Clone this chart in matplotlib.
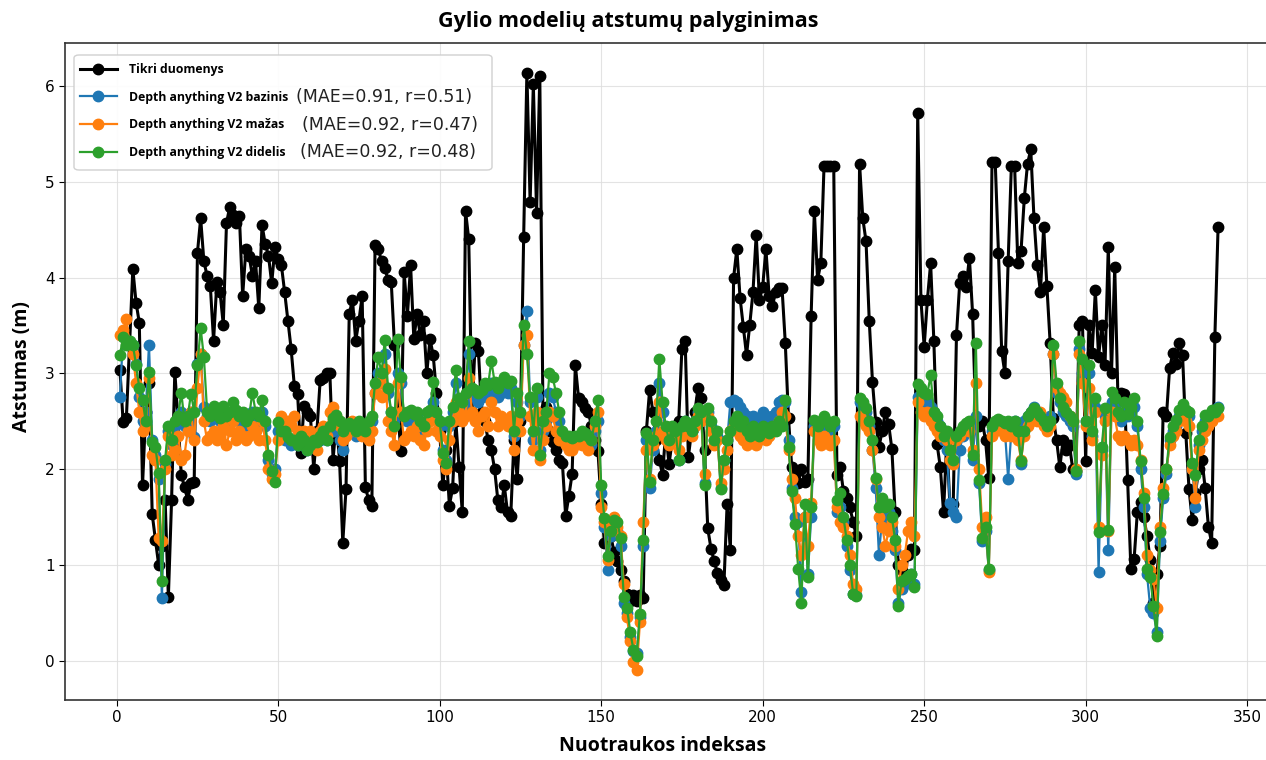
import numpy as np
import matplotlib
matplotlib.use("Agg")
import matplotlib.pyplot as plt
from matplotlib.patches import FancyBboxPatch

title = "Gylio modelių atstumų palyginimas"
x_label = "Nuotraukos indeksas"
y_label = "Atstumas (m)"

names = ["Tikri duomenys", "Depth anything V2 bazinis",
         "Depth anything V2 mažas", "Depth anything V2 didelis"]
metrics = ["(MAE=0.91, r=0.51)", "(MAE=0.92, r=0.47)", "(MAE=0.92, r=0.48)"]

tikri = [
    3.04, 2.49, 2.53, 3.3, 4.09, 3.74, 3.53, 1.83, 2.6, 2.9,
    1.53, 1.26, 1.0, 1.2, 1.68, 0.66, 1.68, 3.02, 2.5, 1.94,
    1.81, 1.68, 1.85, 1.87, 4.26, 4.62, 4.17, 4.02, 3.91, 3.34,
    3.95, 3.85, 3.51, 4.57, 4.74, 4.65, 4.57, 4.64, 3.81, 4.3,
    4.23, 4.02, 4.17, 3.68, 4.55, 4.35, 4.23, 3.94, 4.32, 4.2,
    4.13, 3.85, 3.55, 3.26, 2.87, 2.79, 2.17, 2.66, 2.6, 2.55,
    2.0, 2.4, 2.93, 2.95, 3.0, 3.0, 2.1, 2.5, 2.09, 1.23,
    1.79, 3.62, 3.77, 3.34, 3.55, 3.81, 1.81, 1.68, 1.62, 4.34,
    4.3, 4.17, 4.1, 3.98, 3.96, 3.3, 2.6, 2.19, 4.06, 3.6,
    4.13, 3.36, 3.62, 3.4, 3.55, 3.0, 3.36, 3.19, 2.8, 2.4,
    1.83, 2.2, 1.62, 1.8, 2.5, 2.02, 1.55, 4.70, 4.4, 2.6,
    3.32, 3.23, 2.6, 2.5, 2.3, 2.2, 2.0, 1.68, 1.6, 1.83,
    1.55, 1.51, 2.3, 1.9, 2.5, 4.42, 6.14, 4.79, 6.02, 4.68,
    6.11, 2.5, 2.65, 2.4, 2.28, 2.2, 2.1, 2.06, 1.51, 1.72,
    1.95, 3.09, 2.74, 2.7, 2.64, 2.6, 2.45, 2.3, 2.19, 1.64,
    1.23, 1.35, 1.3, 1.13, 1.04, 0.95, 0.83, 0.7, 0.62, 0.68,
    0.62, 0.68, 0.65, 2.4, 2.83, 2.6, 2.3, 2.1, 1.94, 2.4,
    2.05, 2.3, 2.4, 2.5, 3.26, 3.34, 2.13, 2.4, 2.6, 2.85,
    2.74, 2.2, 1.38, 1.17, 1.04, 0.91, 0.84, 0.79, 1.64, 1.15,
    4.0, 4.3, 3.79, 3.49, 3.19, 3.51, 3.85, 4.45, 3.77, 3.9,
    4.30, 3.81, 3.7, 3.85, 3.89, 3.89, 3.32, 2.53, 2.02, 1.95,
    1.85, 2.0, 1.87, 1.9, 3.6, 4.70, 3.98, 4.15, 5.17, 5.17,
    5.17, 5.17, 1.94, 2.02, 1.77, 1.7, 1.6, 1.45, 1.3, 5.19,
    4.62, 4.38, 3.55, 2.91, 2.49, 2.23, 2.4, 2.6, 2.47, 2.21,
    1.55, 1.0, 0.95, 0.87, 1.1, 1.17, 1.15, 5.72, 3.77, 3.28,
    3.77, 4.15, 3.34, 2.26, 2.02, 1.55, 2.3, 1.6, 1.64, 3.4,
    3.94, 4.02, 3.9, 4.21, 3.62, 2.5, 2.45, 2.5, 2.3, 1.91,
    5.21, 5.21, 4.26, 3.23, 3.0, 4.17, 5.17, 5.17, 4.15, 4.28,
    4.83, 5.19, 5.34, 4.62, 4.13, 3.85, 4.53, 3.91, 3.32, 2.53,
    2.3, 2.02, 2.3, 2.2, 2.25, 2.0, 1.98, 3.51, 3.55, 2.08,
    3.51, 3.21, 3.87, 3.17, 3.51, 3.09, 4.32, 3.0, 4.11, 2.74,
    2.8, 2.79, 1.89, 0.96, 1.06, 1.55, 1.66, 1.5, 1.3, 1.05,
    0.6, 0.9, 1.2, 2.6, 2.55, 3.06, 3.21, 3.1, 3.32, 3.19,
    2.38, 1.79, 1.47, 1.75, 2.0, 2.1, 1.8, 1.4, 1.23, 3.38, 4.53,
]

bazinis = [
    2.75, 3.4, 3.35, 3.3, 3.3, 3.1, 2.75, 2.5, 2.6, 3.3,
    2.3, 2.15, 1.9, 0.65, 2.05, 2.4, 2.25, 2.45, 2.5, 2.6,
    2.45, 2.5, 2.6, 2.34, 3.1, 3.2, 2.65, 2.55, 2.5, 2.6,
    2.55, 2.5, 2.6, 2.5, 2.55, 2.6, 2.55, 2.5, 2.55, 2.45,
    2.5, 2.6, 2.55, 2.5, 2.6, 2.45, 2.1, 1.95, 2.0, 2.4,
    2.35, 2.3, 2.3, 2.25, 2.3, 2.25, 2.3, 2.25, 2.2, 2.25,
    2.25, 2.3, 2.3, 2.35, 2.3, 2.4, 2.4, 2.45, 2.3, 2.2,
    2.4, 2.45, 2.4, 2.35, 2.45, 2.4, 2.35, 2.45, 2.5, 2.8,
    3.0, 2.9, 3.2, 2.8, 2.6, 2.5, 3.0, 2.9, 2.55, 2.5,
    2.55, 2.5, 2.55, 2.45, 2.4, 2.5, 2.55, 2.7, 2.55, 2.45,
    2.2, 2.1, 2.45, 2.6, 2.9, 2.7, 2.65, 2.7, 3.2, 2.8,
    2.75, 2.7, 2.75, 2.8, 2.75, 2.9, 2.8, 2.75, 2.8, 2.85,
    2.8, 2.85, 2.35, 2.7, 2.55, 3.3, 3.65, 2.7, 2.3, 2.75,
    2.2, 2.4, 2.5, 2.8, 2.75, 2.6, 2.5, 2.35, 2.3, 2.3,
    2.3, 2.3, 2.35, 2.35, 2.3, 2.3, 2.25, 2.4, 2.5, 1.75,
    1.4, 0.95, 1.3, 1.4, 1.35, 1.2, 0.6, 0.5, 0.25, 0.1,
    0.08, 0.45, 1.2, 2.3, 1.8, 2.2, 2.4, 2.9, 2.6, 2.4,
    2.3, 2.4, 2.35, 2.1, 2.4, 2.5, 2.4, 2.4, 2.5, 2.6,
    2.55, 1.85, 2.6, 2.45, 2.3, 2.35, 1.8, 2.1, 2.3, 2.7,
    2.72, 2.7, 2.65, 2.6, 2.55, 2.5, 2.55, 2.5, 2.5, 2.6,
    2.55, 2.5, 2.55, 2.6, 2.7, 2.72, 2.7, 2.3, 1.8, 1.5,
    1.45, 0.72, 1.5, 0.9, 1.5, 2.45, 2.4, 2.45, 2.5, 2.45,
    2.4, 2.45, 1.55, 1.6, 1.45, 1.2, 0.95, 0.7, 0.68, 2.7,
    2.65, 2.6, 2.45, 2.2, 1.8, 1.1, 1.5, 1.4, 1.55, 1.35,
    1.15, 0.6, 0.75, 0.8, 0.85, 0.9, 0.8, 2.75, 2.7, 2.65,
    2.7, 2.65, 2.6, 2.5, 2.45, 2.3, 2.2, 1.65, 1.55, 1.5,
    2.2, 2.35, 2.4, 2.45, 2.1, 2.55, 1.85, 1.25, 1.35, 0.95,
    2.4, 2.45, 2.5, 2.45, 2.4, 1.9, 2.4, 2.5, 2.45, 2.05,
    2.5, 2.55, 2.6, 2.65, 2.6, 2.55, 2.5, 2.5, 2.55, 3.2,
    2.8, 2.7, 2.6, 2.55, 2.5, 2.45, 1.95, 3.25, 3.0, 2.5,
    3.0, 2.35, 2.65, 0.93, 2.2, 2.55, 1.15, 2.7, 2.65, 2.55,
    2.5, 2.6, 2.55, 2.6, 2.65, 2.45, 2.0, 1.6, 0.9, 0.55,
    0.5, 0.3, 1.25, 1.7, 1.95, 2.3, 2.4, 2.45, 2.55, 2.6,
    2.55, 2.55, 2.0, 1.6, 2.25, 2.4, 2.5, 2.5, 2.55, 2.6, 2.65,
]

mazas = [
    3.4, 3.45, 3.57, 3.3, 3.2, 2.9, 2.6, 2.4, 2.45, 2.95,
    2.15, 2.1, 1.28, 1.25, 2.0, 2.35, 2.15, 2.2, 2.35, 2.1,
    2.15, 2.4, 2.6, 2.3, 2.85, 3.2, 2.5, 2.3, 2.35, 2.4,
    2.3, 2.35, 2.45, 2.25, 2.4, 2.5, 2.3, 2.4, 2.35, 2.3,
    2.35, 2.45, 2.4, 2.3, 2.5, 2.3, 2.0, 1.9, 1.95, 2.3,
    2.55, 2.4, 2.5, 2.45, 2.55, 2.4, 2.35, 2.4, 2.3, 2.4,
    2.35, 2.2, 2.4, 2.45, 2.35, 2.6, 2.65, 2.55, 2.45, 2.3,
    2.35, 2.45, 2.5, 2.4, 2.45, 2.35, 2.4, 2.3, 2.4, 2.8,
    2.9, 2.75, 3.05, 2.5, 2.4, 2.25, 2.9, 2.6, 2.3, 2.35,
    2.4, 2.35, 2.45, 2.3, 2.25, 2.4, 2.5, 2.6, 2.4, 2.35,
    2.1, 2.0, 2.3, 2.5, 2.7, 2.6, 2.5, 2.55, 2.95, 2.6,
    2.5, 2.4, 2.55, 2.6, 2.45, 2.7, 2.6, 2.45, 2.55, 2.5,
    2.45, 2.55, 2.2, 2.5, 2.4, 3.3, 3.4, 2.55, 2.2, 2.6,
    2.1, 2.3, 2.45, 2.6, 2.55, 2.4, 2.3, 2.3, 2.25, 2.2,
    2.2, 2.25, 2.3, 2.25, 2.3, 2.2, 2.3, 2.45, 2.6, 1.6,
    1.45, 1.05, 1.4, 1.5, 1.4, 1.3, 0.8, 0.45, 0.2, -0.02,
    -0.1, 0.4, 1.45, 2.2, 1.9, 2.25, 2.35, 2.7, 2.4, 2.3,
    2.25, 2.35, 2.3, 2.2, 2.35, 2.45, 2.4, 2.35, 2.45, 2.55,
    2.5, 1.95, 2.55, 2.4, 2.25, 2.3, 1.85, 2.0, 2.2, 2.4,
    2.45, 2.4, 2.35, 2.3, 2.25, 2.3, 2.35, 2.25, 2.3, 2.35,
    2.3, 2.35, 2.4, 2.45, 2.5, 2.6, 2.55, 2.2, 1.9, 1.7,
    1.3, 1.1, 1.5, 1.2, 1.65, 2.4, 2.3, 2.25, 2.35, 2.3,
    2.25, 2.3, 1.6, 1.45, 1.4, 1.3, 1.1, 0.8, 0.75, 2.55,
    2.5, 2.45, 2.4, 2.2, 1.9, 1.5, 1.4, 1.2, 1.35, 1.45,
    1.2, 0.75, 1.0, 1.1, 1.35, 1.45, 1.3, 2.7, 2.6, 2.55,
    2.6, 2.5, 2.45, 2.4, 2.35, 2.4, 2.3, 2.1, 2.05, 2.3,
    2.35, 2.4, 2.45, 2.4, 2.2, 2.9, 2.0, 1.4, 1.5, 0.93,
    2.35, 2.4, 2.45, 2.4, 2.35, 2.4, 2.35, 2.4, 2.3, 2.1,
    2.35, 2.45, 2.5, 2.55, 2.5, 2.6, 2.45, 2.4, 2.45, 3.2,
    2.85, 2.8, 2.75, 2.7, 2.55, 2.5, 2.0, 3.2, 2.9, 2.45,
    2.85, 2.3, 2.6, 1.4, 2.15, 2.5, 1.35, 2.6, 2.55, 2.35,
    2.3, 2.35, 2.3, 2.25, 2.3, 2.25, 2.1, 1.75, 1.1, 0.95,
    0.85, 0.55, 1.4, 1.8, 2.0, 2.25, 2.35, 2.4, 2.5, 2.55,
    2.5, 2.45, 2.0, 1.7, 2.2, 2.3, 2.4, 2.45, 2.5, 2.55, 2.55,
]

didelis = [
    3.19, 3.38, 3.3, 3.34, 3.3, 3.09, 2.85, 2.72, 2.5, 3.02,
    2.28, 2.23, 1.96, 0.83, 2.1, 2.45, 2.3, 2.5, 2.55, 2.8,
    2.5, 2.55, 2.79, 2.6, 3.09, 3.47, 3.17, 2.6, 2.55, 2.66,
    2.6, 2.53, 2.66, 2.55, 2.6, 2.7, 2.62, 2.55, 2.6, 2.5,
    2.55, 2.8, 2.6, 2.55, 2.72, 2.5, 2.15, 1.98, 1.87, 2.49,
    2.4, 2.4, 2.34, 2.3, 2.3, 2.25, 2.35, 2.3, 2.2, 2.25,
    2.3, 2.28, 2.35, 2.4, 2.3, 2.45, 2.53, 2.57, 2.5, 2.4,
    2.45, 2.48, 2.45, 2.4, 2.5, 2.45, 2.4, 2.5, 2.55, 2.9,
    3.17, 3.0, 3.35, 2.85, 2.6, 2.45, 3.36, 2.96, 2.55, 2.6,
    2.62, 2.58, 2.6, 2.5, 2.45, 2.6, 2.62, 2.91, 2.6, 2.5,
    2.17, 2.06, 2.5, 2.65, 3.04, 2.74, 2.7, 2.8, 3.34, 2.85,
    2.83, 2.8, 2.83, 2.9, 2.88, 3.13, 2.91, 2.85, 2.91, 2.96,
    2.9, 2.92, 2.4, 2.8, 2.6, 3.51, 3.2, 2.75, 2.4, 2.85,
    2.15, 2.5, 2.6, 3.0, 2.96, 2.8, 2.6, 2.4, 2.35, 2.35,
    2.33, 2.35, 2.35, 2.4, 2.38, 2.35, 2.3, 2.5, 2.72, 1.83,
    1.49, 1.09, 1.35, 1.47, 1.45, 1.28, 0.66, 0.55, 0.3, 0.11,
    0.05, 0.49, 1.26, 2.38, 1.87, 2.3, 2.5, 3.15, 2.7, 2.45,
    2.3, 2.45, 2.4, 2.1, 2.45, 2.5, 2.45, 2.4, 2.5, 2.64,
    2.6, 1.83, 2.64, 2.5, 2.3, 2.4, 1.79, 2.1, 2.3, 2.4,
    2.5, 2.55, 2.45, 2.5, 2.4, 2.35, 2.45, 2.4, 2.35, 2.45,
    2.4, 2.38, 2.45, 2.4, 2.5, 2.45, 2.72, 2.23, 1.77, 1.43,
    0.96, 0.6, 1.64, 0.87, 1.6, 2.51, 2.45, 2.5, 2.55, 2.5,
    2.45, 2.5, 1.68, 1.75, 1.5, 1.26, 1.0, 0.7, 0.67, 2.74,
    2.7, 2.64, 2.5, 2.3, 1.91, 1.6, 1.7, 1.6, 1.64, 1.5,
    1.26, 0.57, 0.83, 0.85, 0.88, 0.9, 0.77, 2.89, 2.85, 2.8,
    2.79, 2.98, 2.6, 2.55, 2.45, 2.35, 2.4, 2.2, 2.1, 2.35,
    2.4, 2.45, 2.48, 2.5, 2.15, 3.32, 1.89, 1.28, 1.4, 0.96,
    2.45, 2.5, 2.52, 2.5, 2.48, 2.5, 2.45, 2.5, 2.4, 2.09,
    2.4, 2.55, 2.6, 2.64, 2.6, 2.55, 2.5, 2.45, 2.5, 3.3,
    2.9, 2.74, 2.65, 2.6, 2.55, 2.5, 1.98, 3.34, 3.15, 2.5,
    3.09, 2.4, 2.74, 1.34, 2.23, 2.64, 1.36, 2.81, 2.74, 2.6,
    2.55, 2.7, 2.58, 2.65, 2.74, 2.5, 2.09, 1.7, 0.96, 0.87,
    0.57, 0.26, 1.34, 1.74, 2.0, 2.34, 2.45, 2.51, 2.62, 2.68,
    2.62, 2.6, 2.06, 1.94, 2.3, 2.45, 2.57, 2.55, 2.62, 2.6, 2.64,
]

colors = ["black", "#1f77b4", "#ff7f0e", "#2ca02c"]

W, H = 1266, 760


def fx(px):
    return px / W


def fy(py):
    return 1 - py / H


def main():
    series = [tikri, bazinis, mazas, didelis]
    lengths = [len(s) for s in series]
    if len(set(lengths)) != 1:
        raise ValueError(f"series lengths differ: {lengths}")

    fig = plt.figure(figsize=(W / 100, H / 100), dpi=100)
    ax = fig.add_axes([fx(65), 60 / H, (1273 - 65) / W, (700 - 43) / H])

    handles = []
    for i, (vals, col) in enumerate(zip(series, colors)):
        x = np.arange(1, len(vals) + 1)
        lw = 2.2 if i == 0 else 1.6
        h, = ax.plot(x, vals, "-o", color=col, lw=lw, markersize=7.5, zorder=2 + i)
        handles.append(h)

    ax.grid(True, color="#dddddd", lw=0.8, alpha=0.8)
    ax.tick_params(labelsize=11, length=4)
    for sp in ax.spines.values():
        sp.set_linewidth(1.2)
        sp.set_color("#333333")

    leg = ax.legend(handles, names, loc="upper left",
                    bbox_to_anchor=(fx(80), fy(63)), bbox_transform=fig.transFigure,
                    frameon=False, borderpad=0, borderaxespad=0,
                    handlelength=3.0, handletextpad=1.0, labelspacing=1.2,
                    prop={"family": "Open Sans", "weight": "bold", "size": 8.8})
    leg.set_zorder(10)

    box = FancyBboxPatch((fx(74), fy(170)), fx(492 - 74), (170 - 55) / H,
                         boxstyle="round,pad=0,rounding_size=0.004",
                         transform=fig.transFigure, facecolor="white",
                         edgecolor="#cccccc", lw=1.0, alpha=0.9, zorder=9)
    ax.add_patch(box)

    mae_pos = [(296, 97), (302, 125), (300, 152)]
    for txt, (px, py) in zip(metrics, mae_pos):
        fig.text(fx(px), fy(py), txt, fontsize=12.5, va="center", ha="left",
                 family="DejaVu Sans", color="#222222", zorder=11)

    fig.text(fx(628), fy(22), title, ha="center", va="center",
             fontsize=15.5, fontweight="bold", family="Open Sans")
    fig.text(fx(663), fy(746), x_label, ha="center", va="center",
             fontsize=14, fontweight="bold", family="Open Sans")
    fig.text(fx(22), fy(367), y_label, ha="center", va="center", rotation=90,
             fontsize=14, fontweight="bold", family="Open Sans")

    fig.savefig("out.png", dpi=100)


if __name__ == "__main__":
    main()
